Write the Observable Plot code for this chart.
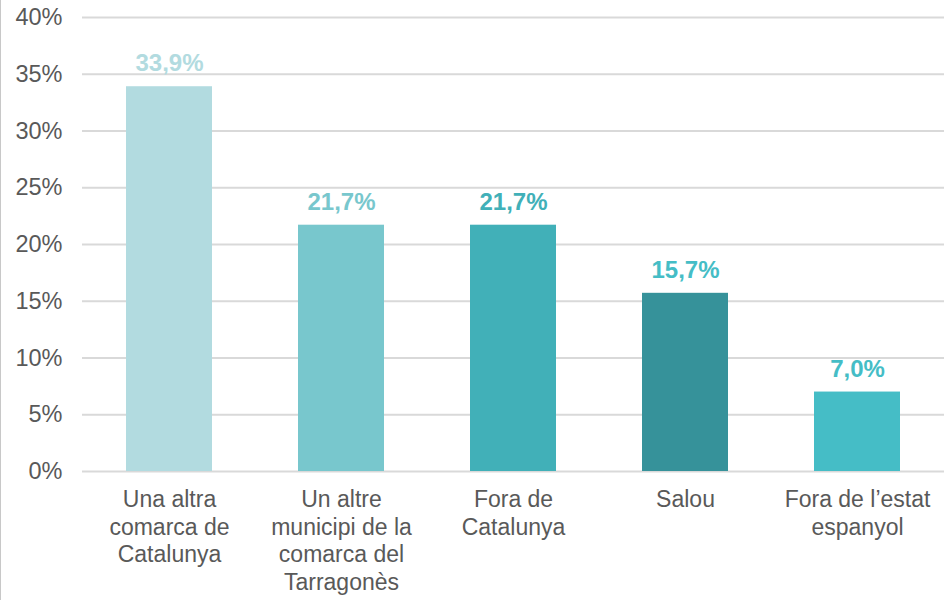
<!DOCTYPE html>
<html><head><meta charset="utf-8">
<script src="https://cdn.jsdelivr.net/npm/d3@7"></script>
<script src="https://cdn.jsdelivr.net/npm/@observablehq/plot@0.6"></script>
<style>
html,body{margin:0;padding:0;background:#fff;}
#chart{width:944px;height:600px;box-sizing:border-box;border-left:1px solid #c8c8c8;}
svg{font-family:"Liberation Sans",Arial,sans-serif;}
</style></head>
<body><div id="chart"></div>
<script>
const categories = ["Una altra comarca de Catalunya","Un altre municipi de la comarca del Tarragonès","Fora de Catalunya","Salou","Fora de l’estat espanyol"];
const categoryLines = ["Una altra\ncomarca de\nCatalunya","Un altre\nmunicipi de la\ncomarca del\nTarragonès","Fora de\nCatalunya","Salou","Fora de l’estat\nespanyol"];
const values = [0.339, 0.217, 0.217, 0.157, 0.070];
const valueLabels = ["33,9%","21,7%","21,7%","15,7%","7,0%"];
const barColors = ["#b2dbe0","#78c7cd","#41b0b8","#36929a","#45bdc6"];
const labelColors = ["#b2dbe0","#78c7cd","#41b0b8","#45bdc6","#45bdc6"];
const yTicks = [0,0.05,0.10,0.15,0.20,0.25,0.30,0.35,0.40];

const data = categories.map((c,i)=>({cat:c, v:values[i], lab:valueLabels[i], bc:barColors[i], lc:labelColors[i]}));
const lineMap = new Map(categories.map((c,i)=>[c,categoryLines[i]]));

const chart = Plot.plot({
  width: 943, height: 600,
  marginLeft: 81, marginRight: 0, marginTop: 17, marginBottom: 129,
  style: {fontFamily: '"Liberation Sans",Arial,sans-serif', background: "transparent"},
  x: {domain: categories, paddingInner: 0.5, paddingOuter: 0.25, align: 0.5},
  y: {domain: [0,0.4]},
  marks: [
    Plot.gridY(yTicks, {stroke: "#d9d9d9", strokeOpacity: 1, strokeWidth: 2}),
    Plot.axisY(yTicks, {tickSize: 0, tickPadding: 20, fontSize: 23.5, fill: "#595959", tickFormat: d => Math.round(d*100) + "%", label: null}),
    Plot.barY(data, {x: "cat", y: "v", fill: "bc", style: "filter: drop-shadow(0px 0px 3px rgba(0,0,0,0.18))"}),
    Plot.text(data, {x: "cat", y: "v", text: "lab", fill: "lc", dy: -23, fontSize: 24, fontWeight: "bold"}),
    Plot.axisX({tickSize: 0, tickPadding: 16, fontSize: 23, fill: "#595959", lineHeight: 1.2, textAnchor: "middle", lineAnchor: "top", tickFormat: d => lineMap.get(d), label: null})
  ]
});
document.getElementById("chart").appendChild(chart);
</script>
</body></html>
